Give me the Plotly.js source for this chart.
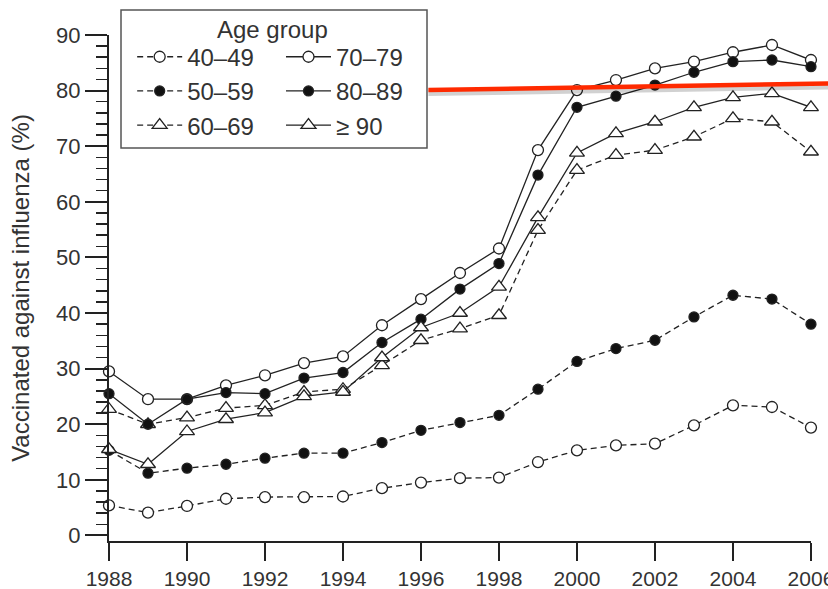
<!DOCTYPE html>
<html>
<head>
<meta charset="utf-8">
<script src="https://cdn.plot.ly/plotly-3.0.1.min.js"></script>
<style>html,body{margin:0;padding:0;background:#fff;}#chart{width:828px;height:589px;}</style>
</head>
<body>
<div id="chart"></div>
<script>
// Years
const years = [1988,1989,1990,1991,1992,1993,1994,1995,1996,1997,1998,1999,2000,2001,2002,2003,2004,2005,2006];
// Series values (% vaccinated against influenza)
const age40_49 = [5.4,4.1,5.3,6.6,6.9,6.9,7.0,8.5,9.5,10.3,10.4,13.2,15.3,16.2,16.5,19.8,23.4,23.1,19.4];
const age50_59 = [15.3,11.2,12.1,12.8,13.9,14.8,14.8,16.7,18.9,20.3,21.6,26.3,31.3,33.6,35.1,39.3,43.2,42.5,38.0];
const age60_69 = [22.7,20.0,21.2,22.9,23.4,25.8,26.3,30.6,35.1,37.2,39.6,54.9,65.7,68.4,69.3,71.7,75.0,74.4,69.0];
const age70_79 = [29.5,24.5,24.5,27.0,28.8,31.0,32.2,37.8,42.5,47.2,51.6,69.3,80.1,81.9,84.0,85.2,86.9,88.2,85.5];
const age80_89 = [25.5,20.0,24.5,25.7,25.5,28.3,29.3,34.7,38.9,44.3,48.9,64.8,77.0,79.0,81.0,83.3,85.2,85.5,84.3];
const age90p   = [15.5,12.8,18.7,20.9,22.1,25.0,25.8,32.0,37.4,40.0,44.7,57.2,68.8,72.3,74.4,77.0,78.8,79.5,77.0];
const seriesNames = ['40–49','50–59','60–69','70–79','80–89','≥ 90'];
const xTicks = [1988,1990,1992,1994,1996,1998,2000,2002,2004,2006];

const ink = '#222';
const dashed = '6px,4px';
function mk(name, y, dash, symbol, fill, size, leg) {
  return {
    x: years, y: y, name: name, type: 'scatter', mode: 'lines+markers',
    line: {color: ink, width: 1.3, dash: dash},
    marker: {symbol: symbol, size: size, color: fill, line: {color: ink, width: 1.3}},
    cliponaxis: false, legend: leg
  };
}
const data = [
  mk(seriesNames[0], age40_49, dashed, 'circle', '#fff', 11, 'legend'),
  mk(seriesNames[1], age50_59, dashed, 'circle', '#111', 10, 'legend'),
  mk(seriesNames[2], age60_69, dashed, 'triangle-up', '#fff', 13, 'legend'),
  mk(seriesNames[3], age70_79, 'solid', 'circle', '#fff', 11, 'legend2'),
  mk(seriesNames[4], age80_89, 'solid', 'circle', '#111', 10, 'legend2'),
  mk(seriesNames[5], age90p, 'solid', 'triangle-up', '#fff', 13, 'legend2')
];

const font = 'Liberation Sans, Arial, Helvetica, sans-serif';
const legendCommon = {
  orientation: 'v', yanchor: 'middle', y: 0.889, xanchor: 'left',
  bgcolor: 'rgba(0,0,0,0)', borderwidth: 0, itemwidth: 45,
  font: {family: font, size: 24, color: '#333'}, tracegroupgap: 0
};
const layout = {
  width: 828, height: 589,
  margin: {l: 109, r: 17, t: 35, b: 48, pad: 0},
  paper_bgcolor: '#fff', plot_bgcolor: '#fff',
  font: {family: font, color: '#333'},
  showlegend: true,
  xaxis: {
    range: [1988, 2006.001], tickmode: 'array', tickvals: xTicks, ticktext: xTicks.map(String),
    ticks: 'outside', ticklen: 18, ticklabeloverflow: 'allow',
    tickwidth: 2, tickcolor: ink, showline: true, linewidth: 2, linecolor: ink,
    showgrid: false, zeroline: false, tickfont: {size: 21, color: '#333'}
  },
  yaxis: {
    range: [-1, 90], tick0: 0, dtick: 10, ticks: 'outside', ticklen: 22,
    tickwidth: 2, tickcolor: ink, showline: true, linewidth: 2, linecolor: ink,
    showgrid: false, zeroline: false, tickfont: {size: 22, color: '#333'},
    minor: {dtick: 2, ticks: 'outside', ticklen: 11, tickwidth: 1.5, tickcolor: ink, showgrid: false},
    title: {text: 'Vaccinated against influenza (%)', font: {size: 24, color: '#333'}, standoff: 20}
  },
  legend: Object.assign({}, legendCommon, {x: 0.033}),
  legend2: Object.assign({}, legendCommon, {x: 0.245}),
  shapes: [
    {type: 'rect', xref: 'paper', yref: 'paper', x0: 0.0171, x1: 0.453, y0: 0.7767, y1: 1.0494,
     line: {color: '#555', width: 1.5}, fillcolor: '#fff', layer: 'above'},
    {type: 'line', xref: 'paper', yref: 'paper', x0: 0.455, x1: 1.03, y0: 0.8853, y1: 0.8983,
     line: {color: 'rgba(0,0,0,0.18)', width: 6}, layer: 'above'},
    {type: 'line', xref: 'paper', yref: 'paper', x0: 0.455, x1: 1.03, y0: 0.8913, y1: 0.9043,
     line: {color: '#ff2a00', width: 4.5}, layer: 'above'}
  ],
  annotations: [
    {text: 'Age group', xref: 'paper', yref: 'paper', x: 0.2336, y: 1.0099,
     xanchor: 'center', yanchor: 'middle', showarrow: false,
     font: {family: font, size: 24, color: '#333'}}
  ]
};
Plotly.newPlot('chart', data, layout, {displayModeBar: false, staticPlot: true});
</script>
</body>
</html>
